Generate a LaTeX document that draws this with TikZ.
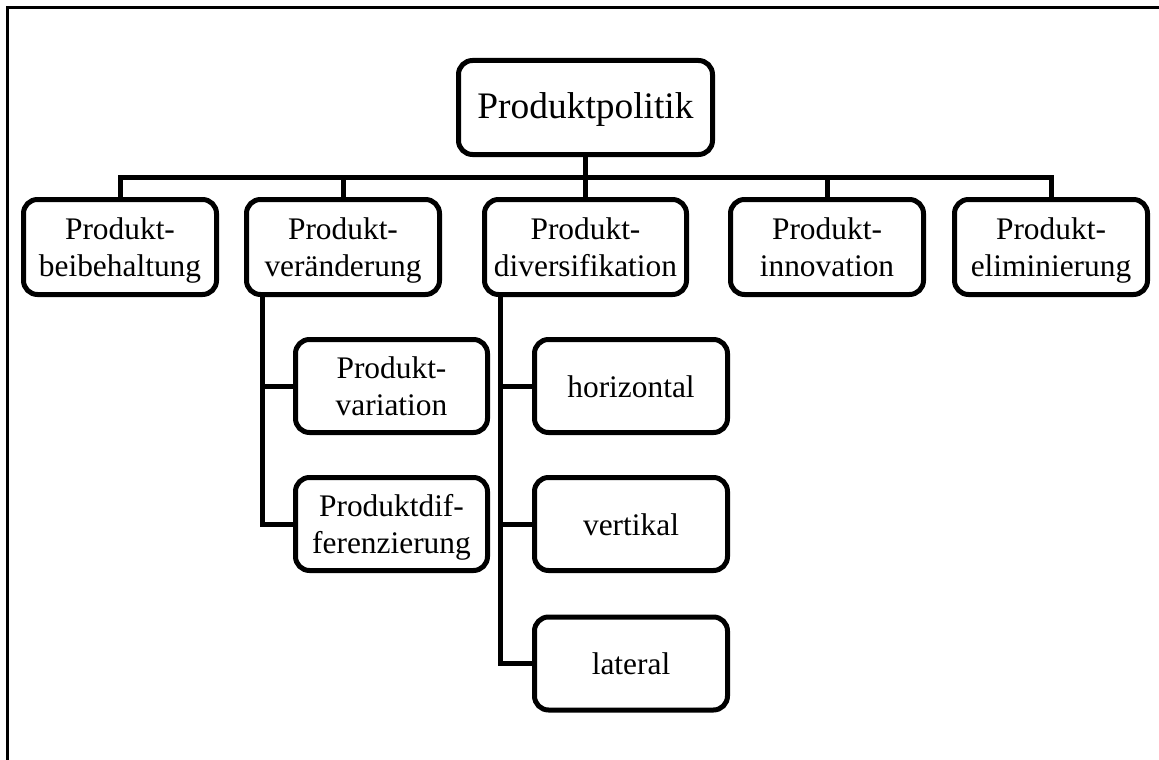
\documentclass[tikz,border=0pt]{standalone}
\usepackage{fontspec}
\setmainfont{Liberation Serif}
% invisible struts that give every line the same height and depth
\newcommand\boxstrut{\rule[-7pt]{0pt}{36pt}}
\newcommand\rootstrut{\rule[-8pt]{0pt}{37pt}}
\begin{document}
\begin{tikzpicture}[x=1pt,y=-1pt,
  box/.style={draw=black, line width=5pt, rounded corners=14pt, fill=white,
    align=center, inner sep=0pt, font=\fontsize{31.4}{37.7}\selectfont,
    minimum width=193pt, minimum height=95pt},
  wide/.style={minimum width=202pt},
  sub/.style={minimum width=192pt, minimum height=93pt},
  link/.style={line width=5pt}]
\useasboundingbox (0,0) rectangle (1159,760);
% outer frame, open to the right and bottom
\draw[line width=3pt] (7.5,760) -- (7.5,7.5) -- (1159,7.5);

% root
\node[box, minimum width=254pt, minimum height=94pt,
      font=\fontsize{37.4}{44}\selectfont] (pp) at (585.5,107.5) {\rootstrut Produktpolitik};

% first level
\node[box] (b1) at (120,247) {\boxstrut Produkt-\\\boxstrut beibehaltung};
\node[box] (b2) at (343,247) {\boxstrut Produkt-\\\boxstrut veränderung};
\node[box, wide] (b3) at (585.5,247) {\boxstrut Produkt-\\\boxstrut diversifikation};
\node[box] (b4) at (827,247) {\boxstrut Produkt-\\\boxstrut innovation};
\node[box] (b5) at (1051,247) {\boxstrut Produkt-\\\boxstrut eliminierung};

% second level under Produktveränderung
\node[box, sub] (v1) at (391.5,386) {\boxstrut Produkt-\\\boxstrut variation};
\node[box, sub] (v2) at (391.5,524) {\boxstrut Produktdif-\\\boxstrut ferenzierung};

% second level under Produktdiversifikation
\node[box, sub, minimum width=193pt] (d1) at (631,386) {\boxstrut horizontal};
\node[box, sub, minimum width=193pt] (d2) at (631,524) {\boxstrut vertikal};
\node[box, sub, minimum width=193pt] (d3) at (631,663.5) {\boxstrut lateral};

% bus between root and first level
\coordinate (bus) at (0,177);
\draw[link] (pp.south) -- (b3.north);
\draw[link] (b1.north) -- (b1.north |- bus) -- (b5.north |- bus) -- (b5.north);
\draw[link] (b2.north) -- (b2.north |- bus);
\draw[link] (b4.north) -- (b4.north |- bus);

% spines to the second level
\draw[link] ([xshift=18.5pt]b2.south west) |- (v2.west);
\draw[link] ([xshift=18.5pt]b2.south west) |- (v1.west);
\draw[link] ([xshift=18.5pt]b3.south west) |- (d3.west);
\draw[link] ([xshift=18.5pt]b3.south west) |- (d1.west);
\draw[link] ([xshift=18.5pt]b3.south west) |- (d2.west);
\end{tikzpicture}
\end{document}
